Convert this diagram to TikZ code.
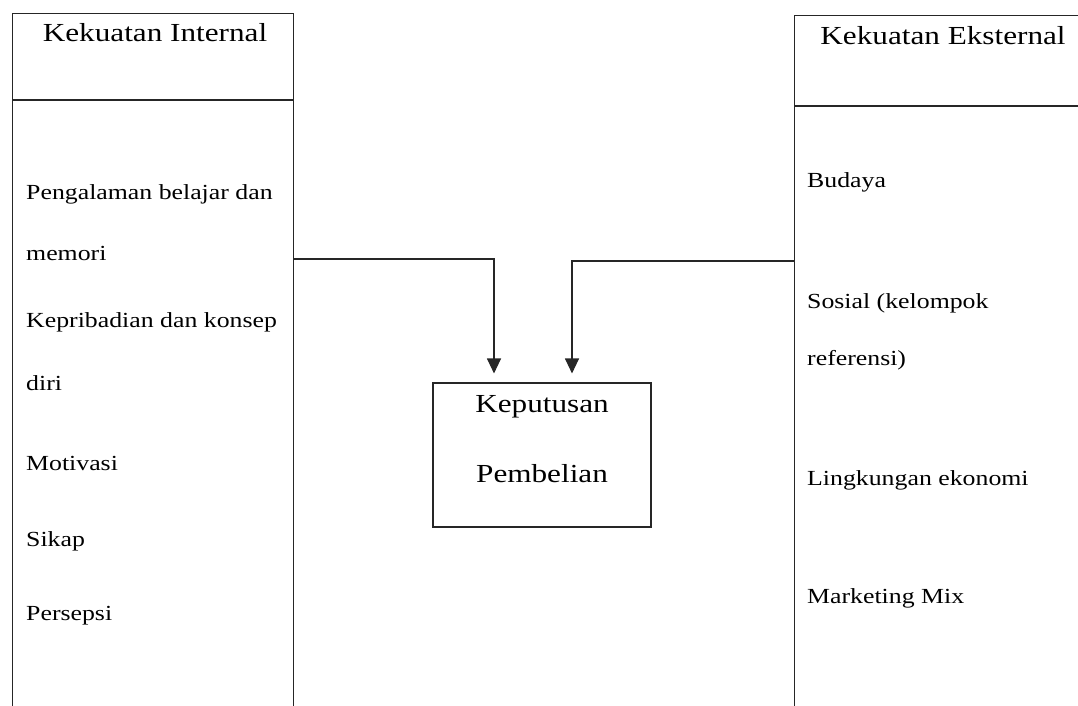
\documentclass[tikz,border=0pt]{standalone}
\usepackage{fontspec}
\setmainfont{Liberation Serif}[FakeStretch=1.2]
\usetikzlibrary{arrows.meta,positioning,calc}
\tikzset{
  >={Triangle[length=15pt,width=14pt]},
  % kotak
  garis/.style={draw=black!85,line width=1.1pt},
  panel/.style={garis,inner sep=0pt,anchor=north west},
  kbox/.style={garis,inner sep=0pt,minimum width=218pt,minimum height=144pt},
  judul/.style={font=\fontsize{26}{30}\selectfont,inner sep=0pt,anchor=base},
  butir/.style={font=\fontsize{21.5}{26}\selectfont,inner sep=0pt,anchor=base west},
  % panah
  arus/.style={->,garis},
}
\begin{document}
\begin{tikzpicture}[x=1pt,y=-1pt]
  \useasboundingbox (0,0) rectangle (1078,706);
  % kolom kiri dan kanan (terpotong di tepi gambar)
  \node[panel,minimum width=281pt,minimum height=730pt] (intl) at (12,13) {};
  \node[panel,minimum width=320pt,minimum height=730pt] (ekst) at (794,15) {};
  \draw[garis] (intl.west |- 0,100) -- (intl.east |- 0,100);
  \draw[garis] (ekst.west |- 0,106) -- (ekst.east |- 0,106);
  \node[judul] (jint) at (155,42) {Kekuatan Internal};
  \node[judul] (jeks) at (943,45) {Kekuatan Eksternal};
  % faktor internal
  \node[butir] (pengalaman) at (26,199) {Pengalaman belajar dan};
  \node[butir] (memori) at (26,260) {memori};
  \node[butir] (pribadi) at (26,327) {Kepribadian dan konsep};
  \node[butir] (diri) at (26,390) {diri};
  \node[butir] (motivasi) at (26,470) {Motivasi};
  \node[butir] (sikap) at (26,546) {Sikap};
  \node[butir] (persepsi) at (26,620) {Persepsi};
  % faktor eksternal
  \node[butir] (budaya) at (807,187) {Budaya};
  \node[butir] (sosial) at (807,308) {Sosial (kelompok};
  \node[butir] (referensi) at (807,365) {referensi)};
  \node[butir] (ekonomi) at (807,485) {Lingkungan ekonomi};
  \node[butir] (mix) at (807,603) {Marketing Mix};
  % keputusan
  \node[kbox] (kep) at (542,455) {};
  \node[judul] (kep1) at (542,412) {Keputusan};
  \node[judul] (kep2) at (542,482) {Pembelian};
  \draw[arus] (intl.east |- 0,259) -| ([xshift=-48pt,yshift=9pt]kep.north);
  \draw[arus] (ekst.west |- 0,261) -| ([xshift=30pt,yshift=9pt]kep.north);
\end{tikzpicture}
\end{document}
